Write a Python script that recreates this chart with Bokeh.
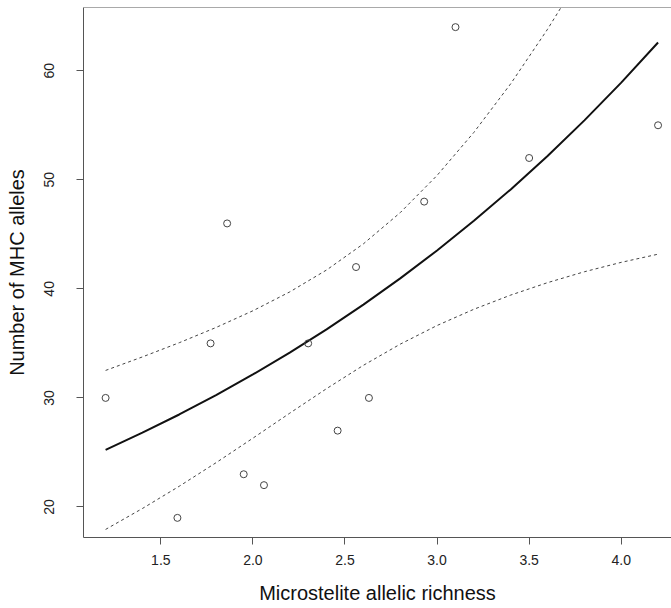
from bokeh.plotting import figure
from bokeh.models import Span, FixedTicker, Range1d
from bokeh.embed import file_html
from bokeh.resources import INLINE

# observed data
richness = [1.20, 1.59, 1.77, 1.86, 1.95, 2.06, 2.30, 2.46, 2.56, 2.63, 2.93, 3.10, 3.50, 4.20]
alleles = [30, 19, 35, 46, 23, 22, 35, 27, 42, 30, 48, 64, 52, 55]

# fitted curve and confidence band
curve_x = [1.2, 1.4, 1.6, 1.8, 2.0, 2.2, 2.4, 2.6, 2.8, 3.0, 3.2, 3.4, 3.6, 3.8, 4.0, 4.2]
fit_y = [25.23, 26.81, 28.48, 30.26, 32.15, 34.16, 36.29, 38.56, 40.96, 43.52,
         46.24, 49.12, 52.19, 55.45, 58.91, 62.59]
lower_y = [17.94, 19.86, 21.90, 24.06, 26.31, 28.60, 30.85, 32.99, 34.93, 36.64,
           38.13, 39.43, 40.57, 41.57, 42.43, 43.18]
upper_x = [1.2, 1.4, 1.6, 1.8, 2.0, 2.2, 2.4, 2.6, 2.8, 3.0, 3.2, 3.4, 3.6, 3.673]
upper_y = [32.52, 33.76, 35.06, 36.46, 37.99, 39.72, 41.73, 44.13, 46.99, 50.40,
           54.35, 58.81, 63.81, 65.8]

x_ticks = [1.5, 2.0, 2.5, 3.0, 3.5, 4.0]
x_tick_labels = ["1.5", "2.0", "2.5", "3.0", "3.5", "4.0"]
y_ticks = [20, 30, 40, 50, 60]
y_tick_labels = ["20", "30", "40", "50", "60"]

FONT = "Liberation Sans"
AXIS_COL = "#555555"

p = figure(width=671, height=608, output_backend="svg", toolbar_location=None,
           x_range=Range1d(1.08, 4.273), y_range=Range1d(17.2, 65.8),
           min_border_left=83, min_border_right=0, min_border_top=7,
           min_border_bottom=71)
p.outline_line_color = None
p.grid.visible = False
p.background_fill_color = "white"
p.border_fill_color = "white"

p.line(upper_x, upper_y, line_color="#444444", line_width=1, line_dash="3 3")
p.line(curve_x, lower_y, line_color="#444444", line_width=1, line_dash="3 3")
p.line(curve_x, fit_y, line_color="#111111", line_width=2)
p.scatter(richness, alleles, marker="circle", size=7, fill_color=None,
          line_color="#444444", line_width=1)

p.add_layout(Span(location=65.8, dimension="width", line_color=AXIS_COL, line_width=1))

for ax in (p.xaxis[0], p.yaxis[0]):
    ax.axis_line_color = AXIS_COL
    ax.major_tick_line_color = AXIS_COL
    ax.major_tick_out = 7
    ax.major_tick_in = 0
    ax.minor_tick_line_color = None
    ax.major_label_text_font = FONT
    ax.major_label_text_font_size = "14px"
    ax.major_label_text_color = "#222222"
    ax.axis_label_text_font = FONT
    ax.axis_label_text_font_size = "20px"
    ax.axis_label_text_font_style = "normal"
    ax.axis_label_text_color = "#111111"

p.xaxis.ticker = FixedTicker(ticks=x_ticks)
p.xaxis.major_label_overrides = dict(zip(x_ticks, x_tick_labels))
p.xaxis.axis_label = "Microstelite allelic richness"
p.xaxis.major_label_standoff = 10
p.xaxis.axis_label_standoff = 14

p.yaxis.ticker = FixedTicker(ticks=y_ticks)
p.yaxis.major_label_overrides = dict(zip(y_ticks, y_tick_labels))
p.yaxis.major_label_orientation = "vertical"
p.yaxis.axis_label = "Number of MHC alleles"
p.yaxis.major_label_standoff = 22
p.yaxis.axis_label_standoff = 14

open("out.html", "w").write(file_html(p, INLINE))
